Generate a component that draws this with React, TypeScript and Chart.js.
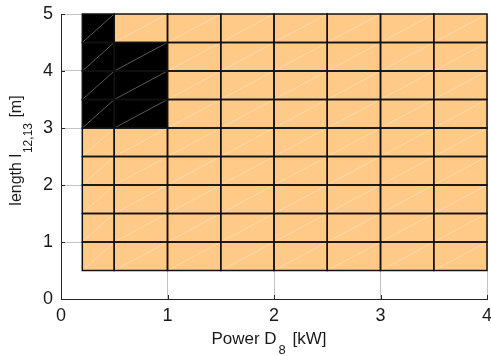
import React, { useEffect, useRef } from "react";
import { Chart, registerables } from "chart.js";
Chart.register(...registerables);

// Cell edges along each axis
const powerEdges = [0.2, 0.5, 1, 1.5, 2, 2.5, 3, 3.5, 4];
const lengthEdges = [0.5, 1, 1.5, 2, 2.5, 3, 3.5, 4, 4.5, 5];

// Cell state per row (bottom -> top), 1 = infeasible (black), 0 = feasible (orange)
const row05 = [0, 0, 0, 0, 0, 0, 0, 0];
const row10 = [0, 0, 0, 0, 0, 0, 0, 0];
const row15 = [0, 0, 0, 0, 0, 0, 0, 0];
const row20 = [0, 0, 0, 0, 0, 0, 0, 0];
const row25 = [0, 0, 0, 0, 0, 0, 0, 0];
const row30 = [1, 1, 0, 0, 0, 0, 0, 0];
const row35 = [1, 1, 0, 0, 0, 0, 0, 0];
const row40 = [1, 1, 0, 0, 0, 0, 0, 0];
const row45 = [1, 0, 0, 0, 0, 0, 0, 0];
const cellRows = [row05, row10, row15, row20, row25, row30, row35, row40, row45];

const xTicks = [0, 1, 2, 3, 4];
const yTicks = [0, 1, 2, 3, 4, 5];

const FONT = "'Liberation Sans', Arial, sans-serif";
const ORANGE = "#ffc987";
const BLACK = "#000000";

const cellPlugin = {
  id: "cells",
  beforeDatasetsDraw(chart: any) {
    const ctx = chart.ctx;
    const xs = chart.scales.x;
    const ys = chart.scales.y;
    const area = chart.chartArea;
    ctx.save();
    // inward tick marks (MATLAB style)
    ctx.strokeStyle = "#262626";
    ctx.lineWidth = 1;
    yTicks.forEach((v) => {
      const y = Math.round(ys.getPixelForValue(v)) + 0.5;
      ctx.beginPath();
      ctx.moveTo(area.left, y);
      ctx.lineTo(area.left + 4, y);
      ctx.stroke();
    });
    xTicks.forEach((v) => {
      const x = Math.round(xs.getPixelForValue(v)) + 0.5;
      ctx.beginPath();
      ctx.moveTo(x, area.bottom);
      ctx.lineTo(x, area.bottom - 4);
      ctx.stroke();
    });
    const rects: any[] = [];
    cellRows.forEach((row, r) => {
      row.forEach((v, c) => {
        const x0 = xs.getPixelForValue(powerEdges[c]);
        const x1 = xs.getPixelForValue(powerEdges[c + 1]);
        const y0 = ys.getPixelForValue(lengthEdges[r]);
        const y1 = ys.getPixelForValue(lengthEdges[r + 1]);
        rects.push({ x0, x1, y0, y1, v });
      });
    });
    rects.forEach(({ x0, x1, y0, y1, v }) => {
      ctx.fillStyle = v ? BLACK : ORANGE;
      ctx.fillRect(x0, y1, x1 - x0, y0 - y1);
    });
    rects.forEach(({ x0, x1, y0, y1, v }) => {
      ctx.strokeStyle = v ? "rgba(160,160,160,0.8)" : "rgba(255,255,255,0.45)";
      ctx.lineWidth = 0.7;
      ctx.beginPath();
      ctx.moveTo(x0, y0);
      ctx.lineTo(x1, y1);
      ctx.stroke();
    });
    ctx.strokeStyle = "#111";
    ctx.lineWidth = 1.5;
    rects.forEach(({ x0, x1, y0, y1 }) => {
      ctx.strokeRect(x0, y1, x1 - x0, y0 - y1);
    });
    ctx.restore();
  },
};

function drawSubText(
  ctx: any,
  parts: [string, boolean][],
  cx: number,
  cy: number,
  mainSize: number,
  subSize: number,
  subOffset: number,
  subGap: number
) {
  const main = `${mainSize}px ${FONT}`;
  const sub = `${subSize}px ${FONT}`;
  let total = 0;
  parts.forEach(([t, s]) => {
    ctx.font = s ? sub : main;
    total += ctx.measureText(t).width + (s ? 2 * subGap : 0);
  });
  let x = cx - total / 2;
  ctx.textBaseline = "middle";
  ctx.textAlign = "left";
  parts.forEach(([t, s]) => {
    ctx.font = s ? sub : main;
    if (s) x += subGap;
    ctx.fillText(t, x, s ? cy + subOffset : cy);
    x += ctx.measureText(t).width + (s ? subGap : 0);
  });
}

const titlePlugin = {
  id: "titles",
  afterDraw(chart: any) {
    const ctx = chart.ctx;
    const area = chart.chartArea;
    ctx.save();
    ctx.fillStyle = "#1a1a1a";
    drawSubText(
      ctx,
      [["Power D", false], ["8", true], [" [kW]", false]],
      (area.left + area.right) / 2 - 5,
      339,
      17,
      13,
      11,
      2
    );
    ctx.translate(17, (area.top + area.bottom) / 2 - 6);
    ctx.rotate(-Math.PI / 2);
    drawSubText(
      ctx,
      [["length l", false], ["12,13", true], [" [m]", false]],
      0,
      0,
      16,
      12,
      12,
      1
    );
    ctx.restore();
  },
};

export default function App() {
  const ref = useRef<HTMLCanvasElement>(null);
  useEffect(() => {
    if (!ref.current) return;
    const chart = new Chart(ref.current, {
      type: "scatter",
      data: { datasets: [{ data: [], pointRadius: 0 }] },
      plugins: [cellPlugin, titlePlugin],
      options: {
        animation: false,
        responsive: false,
        events: [],
        layout: { padding: { top: 14, right: 4, left: 0, bottom: 0 } },
        plugins: { legend: { display: false }, tooltip: { enabled: false } },
        scales: {
          x: {
            type: "linear",
            min: 0,
            max: 4,
            afterBuildTicks: (s: any) => {
              s.ticks = xTicks.map((v) => ({ value: v }));
            },
            ticks: {
              font: { size: 18, family: FONT },
              color: "#1a1a1a",
              padding: 6,
              maxRotation: 0,
            },
            grid: { color: "#c4c4c4", drawTicks: false, lineWidth: 1 },
            border: { color: "#262626", width: 1 },
            afterFit: (s: any) => {
              s.height = 57;
              s.paddingLeft = 0;
              s.paddingRight = 0;
            },
          },
          y: {
            type: "linear",
            min: 0,
            max: 5,
            afterBuildTicks: (s: any) => {
              s.ticks = yTicks.map((v) => ({ value: v }));
            },
            ticks: {
              font: { size: 18, family: FONT },
              color: "#1a1a1a",
              padding: 8,
            },
            grid: { color: "#c4c4c4", drawTicks: false, lineWidth: 1 },
            border: { color: "#262626", width: 1 },
            afterFit: (s: any) => {
              s.width = 61;
              s.paddingTop = 0;
              s.paddingBottom = 0;
            },
          },
        },
      },
    });
    return () => chart.destroy();
  }, []);
  return (
    <canvas
      ref={ref}
      width={491}
      height={356}
      style={{ position: "fixed", left: 0, top: 0, display: "block" }}
    />
  );
}
